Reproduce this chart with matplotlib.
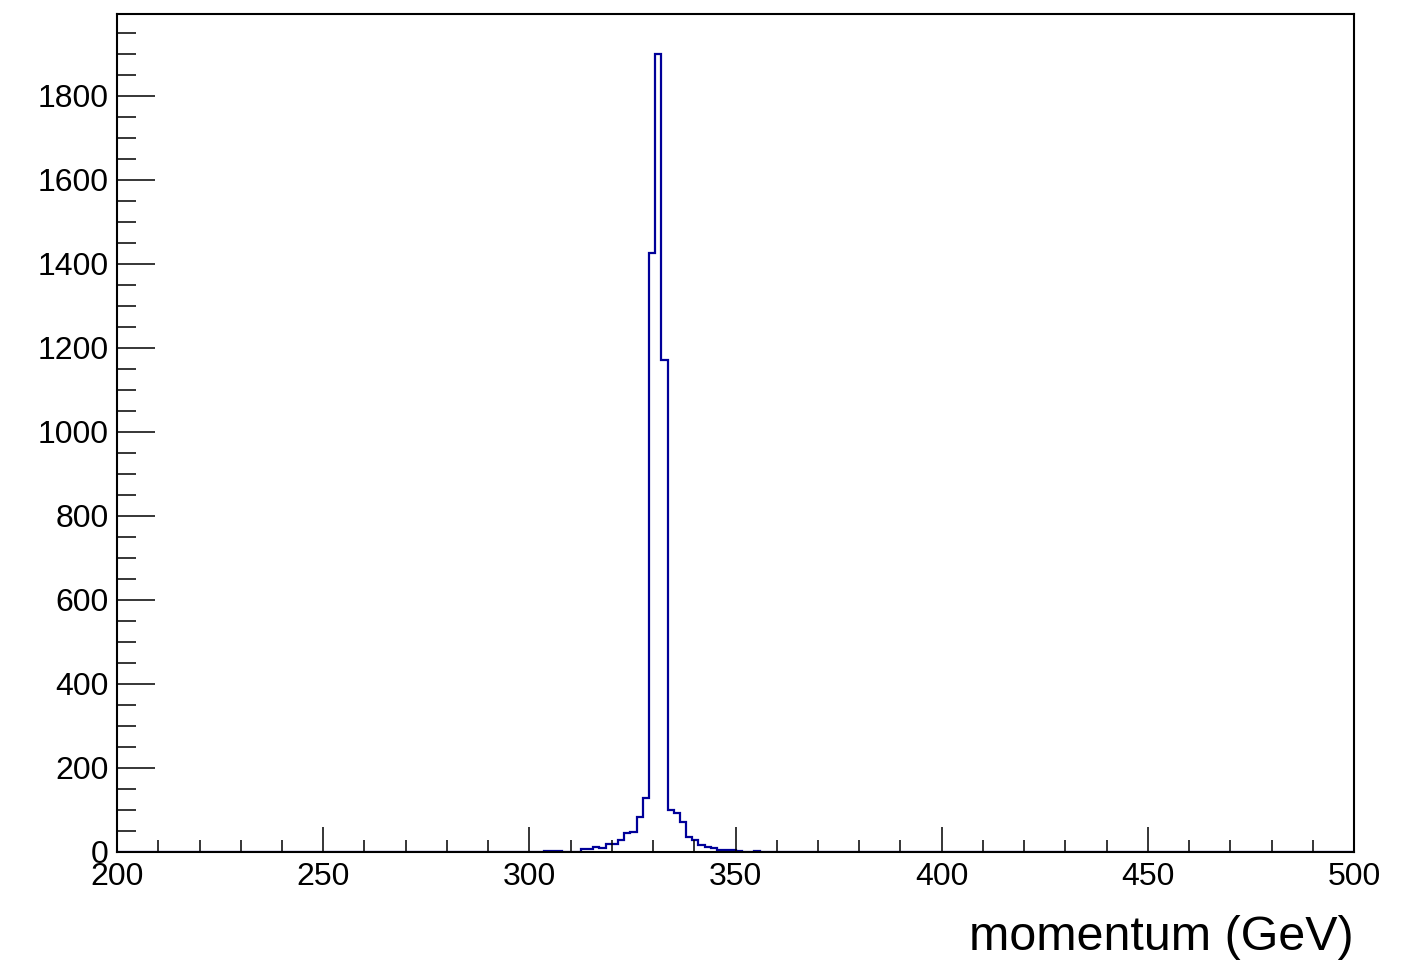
import numpy as np
import matplotlib
matplotlib.use("Agg")
import matplotlib.pyplot as plt
from matplotlib.ticker import MultipleLocator

plt.rcParams['font.family'] = ['Liberation Sans', 'DejaVu Sans']

# histogram: 200 bins of 1.5 GeV between 200 and 500
x_min, x_max, n_bins = 200, 500, 200
# counts, starting with the bin at 300.5 GeV
first_bin_lo = 300.5
counts_read = [1, 0, 2, 3, 2, 0, 1, 1, 8, 8, 12, 9, 20, 19, 28, 46, 48, 84, 129,
               1426, 1900, 1171,
               99, 92, 71, 35, 29, 17, 11, 9, 4, 5, 4, 2, 1, 0, 2]
y_max = 1995

edges = np.linspace(x_min, x_max, n_bins + 1)
counts = np.zeros(n_bins)
i0 = int(round((first_bin_lo - x_min) / 1.5))
counts[i0:i0 + len(counts_read)] = counts_read

fig = plt.figure(figsize=(14.19, 9.63), dpi=100)
ax = fig.add_axes([0.0825, 0.1153, 0.8717, 0.8702])

ax.stairs(counts, edges, color='#000099', linewidth=1.6)

ax.set_xlim(x_min, x_max)
ax.set_ylim(0, y_max)

ax.xaxis.set_major_locator(MultipleLocator(50))
ax.xaxis.set_minor_locator(MultipleLocator(10))
ax.yaxis.set_major_locator(MultipleLocator(200))
ax.yaxis.set_minor_locator(MultipleLocator(50))

ax.tick_params(axis='both', which='both', direction='in', top=False, right=False,
               labelsize=23, width=1.1, color='black')
ax.tick_params(axis='x', which='major', length=18, pad=7)
ax.tick_params(axis='x', which='minor', length=8.6)
ax.tick_params(axis='y', which='major', length=27.4, pad=6)
ax.tick_params(axis='y', which='minor', length=13.7)

for s in ax.spines.values():
    s.set_linewidth(1.5)

fig.text(0.9542, 0.0135, 'momentum (GeV)', fontsize=34.8, ha='right', va='baseline')

fig.savefig('out.png', dpi=100)
